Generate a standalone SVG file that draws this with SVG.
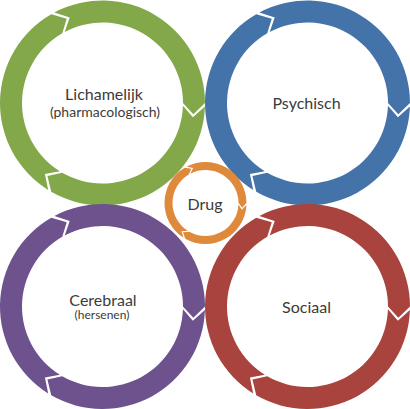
<svg xmlns="http://www.w3.org/2000/svg" xmlns:xlink="http://www.w3.org/1999/xlink" width="410" height="409" viewBox="0 0 410 409">
  <style>
    .lbl { font-family: Lato, "Liberation Sans", sans-serif; fill: #3b3b3b; text-anchor: middle; }
    .big { font-size: 16px; }
    .sub { font-size: 14px; }
    .small { font-size: 12px; }
    .green { fill: #82a84a; }
    .blue { fill: #4473a9; }
    .purple { fill: #6d528d; }
    .red { fill: #a8433e; }
    .orange { fill: #df893a; }
  </style>
  <defs>
    <path id="segBig" d="M52.79,-87.86 A102.5,102.5 0 0 1 52.79,87.86 L37.21,83.59 L41.46,69.00 A80.5,80.5 0 0 0 41.46,-69.00 L56.33,-72.10 Z"/>
    <path id="segSmall" d="M21.42,-34.96 A41,41 0 0 1 21.42,34.96 L14.75,33.93 L17.24,28.14 A33,33 0 0 0 17.24,-28.14 L23.54,-28.55 Z"/>
  </defs>

  <g id="node-lichamelijk">
    <g class="green" transform="translate(102.5,103)">
      <use xlink:href="#segBig" href="#segBig" transform="rotate(61)"/>
      <use xlink:href="#segBig" href="#segBig" transform="rotate(181)"/>
      <use xlink:href="#segBig" href="#segBig" transform="rotate(301)"/>
    </g>
    <text class="lbl big" x="104" y="100">Lichamelijk</text>
    <text class="lbl sub" x="105" y="117">(pharmacologisch)</text>
  </g>

  <g id="node-psychisch">
    <g class="blue" transform="translate(307.5,103)">
      <use xlink:href="#segBig" href="#segBig" transform="rotate(61)"/>
      <use xlink:href="#segBig" href="#segBig" transform="rotate(181)"/>
      <use xlink:href="#segBig" href="#segBig" transform="rotate(301)"/>
    </g>
    <text class="lbl big" x="306.5" y="109">Psychisch</text>
  </g>

  <g id="node-cerebraal">
    <g class="purple" transform="translate(102.5,306.5)">
      <use xlink:href="#segBig" href="#segBig" transform="rotate(61)"/>
      <use xlink:href="#segBig" href="#segBig" transform="rotate(181)"/>
      <use xlink:href="#segBig" href="#segBig" transform="rotate(301)"/>
    </g>
    <text class="lbl big" x="103" y="305.5">Cerebraal</text>
    <text class="lbl small" x="102" y="319">(hersenen)</text>
  </g>

  <g id="node-sociaal">
    <g class="red" transform="translate(307.5,306.5)">
      <use xlink:href="#segBig" href="#segBig" transform="rotate(61)"/>
      <use xlink:href="#segBig" href="#segBig" transform="rotate(181)"/>
      <use xlink:href="#segBig" href="#segBig" transform="rotate(301)"/>
    </g>
    <text class="lbl big" x="306.5" y="313">Sociaal</text>
  </g>

  <g id="node-drug">
    <g class="orange" transform="translate(205.5,203)">
      <use xlink:href="#segSmall" href="#segSmall" transform="rotate(61)"/>
      <use xlink:href="#segSmall" href="#segSmall" transform="rotate(181)"/>
      <use xlink:href="#segSmall" href="#segSmall" transform="rotate(301)"/>
    </g>
    <text class="lbl big" x="205" y="210">Drug</text>
  </g>

  <g id="connectors"></g>
</svg>
